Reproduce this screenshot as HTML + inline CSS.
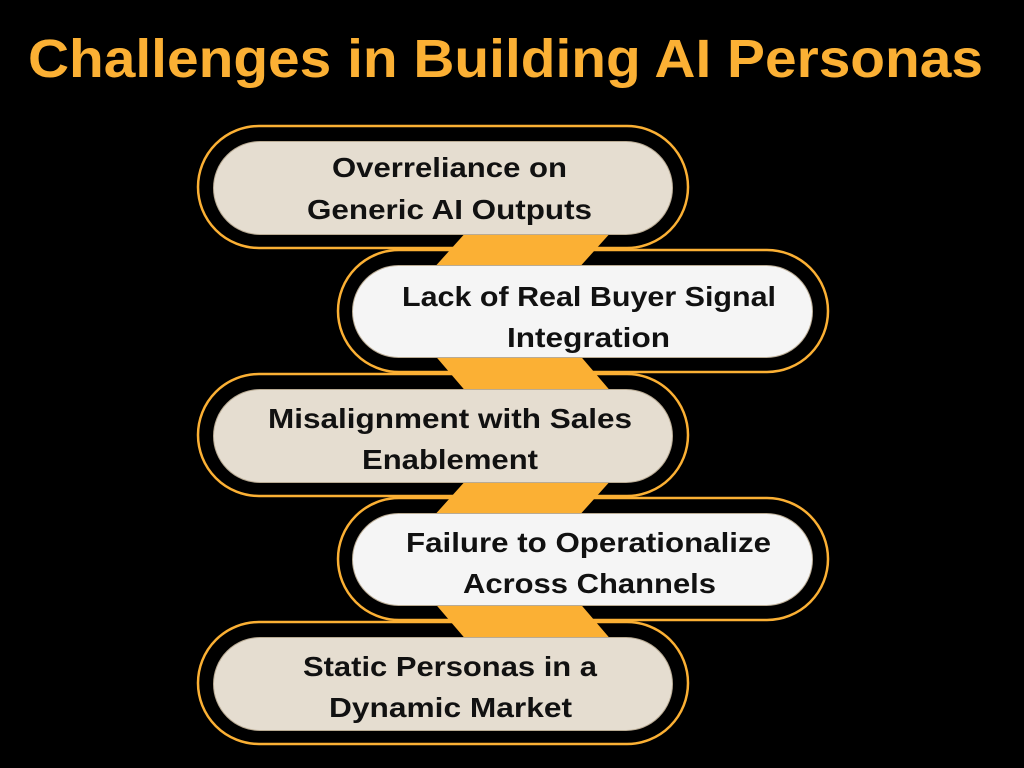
<!DOCTYPE html>
<html><head><meta charset="utf-8"><style>
html,body{margin:0;padding:0;background:#000;}
svg{display:block;}
text{font-family:"Liberation Sans",sans-serif;font-weight:bold;}
</style></head><body>
<svg width="1024" height="768" viewBox="0 0 1024 768">
<rect width="1024" height="768" fill="#000"/>
<text x="28" y="77" font-size="54" fill="#FBB034" textLength="955" lengthAdjust="spacingAndGlyphs">Challenges in Building AI Personas</text>
<g fill="#000" stroke="#FBB034" stroke-width="2.5">
<rect x="198" y="126" width="490" height="122" rx="61"/>
<rect x="338" y="250" width="490" height="122" rx="61"/>
<rect x="198" y="374" width="490" height="122" rx="61"/>
<rect x="338" y="498" width="490" height="122" rx="61"/>
<rect x="198" y="622" width="490" height="122" rx="61"/>
</g>
<g fill="#FBB034">
<polygon points="468,230 613,230 577,270 432,270"/>
<polygon points="432,352 577,352 613,394 468,394"/>
<polygon points="468,478 613,478 577,518 432,518"/>
<polygon points="432,600 577,600 613,642 468,642"/>
</g>
<g stroke="#b9ab94" stroke-width="1">
<rect x="213.5" y="141.5" width="459" height="93" rx="46.5" fill="#E5DDD0"/>
<rect x="352.5" y="265.5" width="460" height="92" rx="46" fill="#F5F5F5"/>
<rect x="213.5" y="389.5" width="459" height="93" rx="46.5" fill="#E5DDD0"/>
<rect x="352.5" y="513.5" width="460" height="92" rx="46" fill="#F5F5F5"/>
<rect x="213.5" y="637.5" width="459" height="93" rx="46.5" fill="#E5DDD0"/>
</g>
<g font-size="28" fill="#111">
<text x="332" y="177" textLength="235" lengthAdjust="spacingAndGlyphs">Overreliance on</text>
<text x="307" y="219" textLength="285" lengthAdjust="spacingAndGlyphs">Generic AI Outputs</text>
<text x="402" y="306" textLength="374" lengthAdjust="spacingAndGlyphs">Lack of Real Buyer Signal</text>
<text x="507" y="347" textLength="163" lengthAdjust="spacingAndGlyphs">Integration</text>
<text x="268" y="428" textLength="364" lengthAdjust="spacingAndGlyphs">Misalignment with Sales</text>
<text x="362" y="469" textLength="176" lengthAdjust="spacingAndGlyphs">Enablement</text>
<text x="406" y="552" textLength="365" lengthAdjust="spacingAndGlyphs">Failure to Operationalize</text>
<text x="463" y="593" textLength="253" lengthAdjust="spacingAndGlyphs">Across Channels</text>
<text x="303" y="676" textLength="294" lengthAdjust="spacingAndGlyphs">Static Personas in a</text>
<text x="329" y="717" textLength="243" lengthAdjust="spacingAndGlyphs">Dynamic Market</text>
</g>
</svg>
</body></html>
